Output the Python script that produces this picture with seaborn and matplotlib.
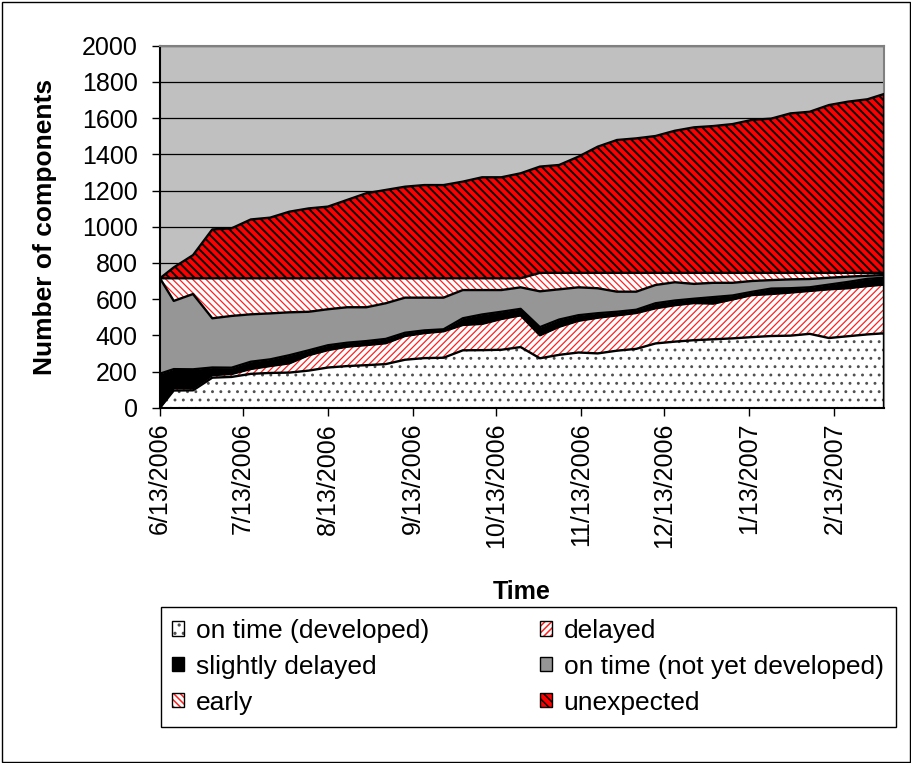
import matplotlib
matplotlib.use("Agg")
import matplotlib.pyplot as plt
from matplotlib.patches import Patch, Rectangle
from matplotlib.legend_handler import HandlerTuple
import numpy as np
import pandas as pd
import seaborn as sns

# weekly snapshots
dates = ["2006-06-13", "2006-06-18", "2006-06-25", "2006-07-02", "2006-07-09",
         "2006-07-16", "2006-07-23", "2006-07-30", "2006-08-06", "2006-08-13",
         "2006-08-20", "2006-08-27", "2006-09-03", "2006-09-10", "2006-09-17",
         "2006-09-24", "2006-10-01", "2006-10-08", "2006-10-15", "2006-10-22",
         "2006-10-29", "2006-11-05", "2006-11-12", "2006-11-19", "2006-11-26",
         "2006-12-03", "2006-12-10", "2006-12-17", "2006-12-24", "2006-12-31",
         "2007-01-07", "2007-01-14", "2007-01-21", "2007-01-28", "2007-02-04",
         "2007-02-11", "2007-02-18", "2007-02-25", "2007-03-03"]

on_time_developed = [0, 95, 96, 166, 170, 187, 192, 194, 205, 222, 230, 235, 241,
                     265, 274, 276, 317, 318, 320, 335, 273, 292, 305, 300, 315,
                     325, 355, 365, 373, 378, 383, 390, 396, 398, 408, 385, 395,
                     405, 411]
delayed = [0, 13, 12, 14, 16, 27, 38, 51, 85, 96, 107, 111, 115, 131, 138, 146,
           140, 145, 170, 175, 127, 155, 175, 197, 195, 198, 194, 201, 205, 197,
           215, 232, 232, 238, 237, 269, 265, 267, 269]
slightly_delayed = [188, 105, 104, 42, 35, 40, 37, 45, 27, 27, 22, 22, 24, 18, 15,
                    11, 37, 52, 40, 36, 45, 40, 31, 25, 20, 18, 28, 26, 24, 36, 22,
                    18, 30, 24, 20, 26, 35, 40, 38]
on_time_pending = [527, 377, 416, 272, 286, 262, 254, 237, 213, 199, 196, 187, 197,
                   194, 181, 175, 156, 135, 120, 119, 198, 167, 154, 138, 111, 100,
                   101, 101, 82, 79, 70, 60, 47, 49, 46, 38, 29, 17, 15]
early = [0, 125, 87, 221, 208, 199, 194, 188, 185, 171, 160, 160, 138, 107, 107,
         107, 65, 65, 65, 50, 102, 91, 80, 85, 104, 104, 67, 52, 61, 55, 55, 45,
         40, 36, 34, 27, 21, 16, 12]
unexpected = [0, 60, 128, 270, 276, 325, 335, 368, 386, 396, 433, 470, 488, 506,
              515, 515, 534, 558, 558, 580, 587, 596, 642, 697, 734, 743, 756, 785,
              804, 811, 822, 845, 852, 881, 890, 927, 946, 959, 988]

series_names = ["on time (developed)", "delayed", "slightly delayed",
                "on time (not yet developed)", "early", "unexpected"]

tick_dates = ["2006-06-13", "2006-07-13", "2006-08-13", "2006-09-13", "2006-10-13",
              "2006-11-13", "2006-12-13", "2007-01-13", "2007-02-13"]
tick_labels = ["6/13/2006", "7/13/2006", "8/13/2006", "9/13/2006", "10/13/2006",
               "11/13/2006", "12/13/2006", "1/13/2007", "2/13/2007"]
y_ticks = list(range(0, 2001, 200))

sns.set_theme(style="ticks", rc={"axes.facecolor": "#C0C0C0",
                                 "figure.facecolor": "white",
                                 "axes.edgecolor": "black",
                                 "xtick.color": "black",
                                 "ytick.color": "black",
                                 "text.color": "black",
                                 "axes.labelcolor": "black"})
plt.rcParams["font.family"] = ["Liberation Sans", "DejaVu Sans"]
plt.rcParams["hatch.linewidth"] = 1.1

# fill colour, hatch, hatch colour for each layer (bottom to top)
styles = [("white", "..", "#505050"),
          ("white", "/////", "#FF2020"),
          ("black", None, None),
          ("#969696", None, None),
          ("white", "\\\\\\\\\\", "#FF2020"),
          ("#FF0000", "\\\\\\\\", "black")]

x = pd.to_datetime(dates)
layers = np.array([on_time_developed, delayed, slightly_delayed,
                   on_time_pending, early, unexpected], dtype=float)
tops = np.cumsum(layers, axis=0)
bottoms = np.vstack([np.zeros(len(x)), tops[:-1]])

fig = plt.figure(figsize=(9.11, 7.63), dpi=100)
ax = fig.add_axes([160 / 911, 1 - 407.7 / 763, 724 / 911, 362 / 763])

for lo, hi, (face, hatch, hcol) in zip(bottoms, tops, styles):
    ax.fill_between(x, lo, hi, facecolor=face, linewidth=0, zorder=2)
    if hatch:
        coll = ax.fill_between(x, lo, hi, facecolor="none", edgecolor=hcol,
                               hatch=hatch, linewidth=0, zorder=2.1)
        if hasattr(coll, "set_hatch_linewidth"):
            coll.set_hatch_linewidth(1.4 if hcol == "black" else 0.9)

for top in tops:
    sns.lineplot(x=x, y=top, color="black", linewidth=1.7, ax=ax,
                 legend=False, errorbar=None, zorder=3)
ax.plot([x[-1], x[-1]], [0, tops[-1][-1]], color="black", lw=2.4, zorder=3)

ax.set_ylim(0, 2000)
ax.set_xlim(x[0], x[-1])
ax.set_yticks(y_ticks)
ax.set_yticklabels([str(v) for v in y_ticks], fontsize=18)
ax.set_xticks(pd.to_datetime(tick_dates))
ax.set_xticklabels(tick_labels, rotation=90, fontsize=18)
ax.tick_params(axis="y", direction="out", length=6, width=1, pad=10)
ax.tick_params(axis="x", direction="out", length=6, width=1, pad=5)
ax.minorticks_off()

ax.set_axisbelow(True)
ax.yaxis.grid(True, color="black", linewidth=0.9)
ax.xaxis.grid(False)
for side in ["left", "bottom"]:
    ax.spines[side].set_color("black")
    ax.spines[side].set_linewidth(1.5)
for side in ["top", "right"]:
    ax.spines[side].set_color("#808080")
    ax.spines[side].set_linewidth(1.5)

ax.set_ylabel("Number of components", fontsize=19, fontweight="bold", va="center")
ax.yaxis.set_label_coords(-0.159, 0.5)
ax.set_xlabel("Time", fontsize=18, fontweight="bold", va="center")
ax.xaxis.set_label_coords(0.5, -0.509)

handles = []
for face, hatch, hcol in styles:
    fill = Patch(facecolor=face, edgecolor=hcol if hcol else face,
                 hatch=hatch, linewidth=0)
    border = Patch(facecolor="none", edgecolor="black", linewidth=1)
    handles.append((fill, border))

# legend reads row by row in the original; matplotlib fills columns first
order = [0, 2, 4, 1, 3, 5]
leg = fig.legend([handles[i] for i in order], [series_names[i] for i in order],
                 loc="upper left", ncol=2,
                 bbox_to_anchor=(160.5 / 911, 1 - 736 / 763, 735 / 911, 129 / 763),
                 mode="expand", fontsize=19, frameon=True, fancybox=False,
                 facecolor="white", edgecolor="black", framealpha=1,
                 borderaxespad=0, borderpad=0.45, handlelength=0.45,
                 handleheight=0.45, handletextpad=0.45, labelspacing=0.45,
                 handler_map={tuple: HandlerTuple(ndivide=1, pad=0)})
leg.get_frame().set_linewidth(1.0)

fig.patches.append(Rectangle((1.5 / 911, 1.5 / 763), 908 / 911, 760 / 763,
                             transform=fig.transFigure, fill=False,
                             edgecolor="black", linewidth=1.0))

fig.savefig("out.png", dpi=100)
